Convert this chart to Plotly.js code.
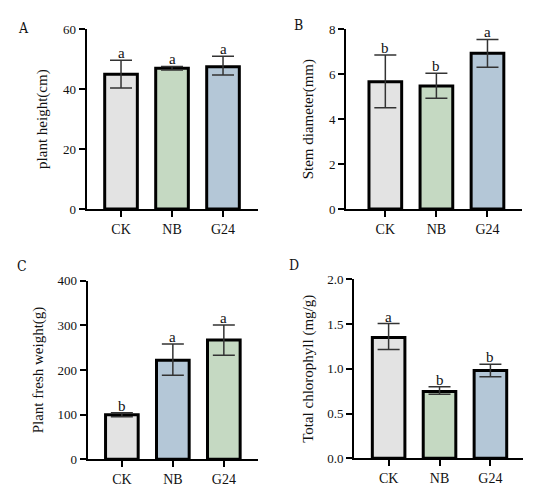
<!DOCTYPE html>
<html><head><meta charset="utf-8">
<script src="https://cdn.plot.ly/plotly-3.0.1.min.js"></script>
<style>html,body{margin:0;padding:0;background:#fff}#plot{width:550px;height:495px}</style>
</head><body><div id="plot"></div>
<script>
const categories = ["CK", "NB", "G24"];

const heightVals = [45, 47, 47.5];
const heightErrUp = [4.7, 0.6, 3.5];
const heightErrDn = [4.6, 0.6, 2.8];
const heightLetters = ["a", "a", "a"];

const stemVals = [5.67, 5.48, 6.93];
const stemErrUp = [1.19, 0.56, 0.62];
const stemErrDn = [1.16, 0.55, 0.62];
const stemLetters = ["b", "b", "a"];

const freshVals = [100, 222, 267];
const freshErrUp = [4.5, 36, 34];
const freshErrDn = [4.5, 34, 34];
const freshLetters = ["b", "a", "a"];

const chlVals = [1.35, 0.745, 0.98];
const chlErrUp = [0.156, 0.055, 0.07];
const chlErrDn = [0.134, 0.03, 0.068];
const chlLetters = ["a", "b", "b"];

const grey = "#e3e3e3", green = "#c5d9c2", blue = "#b4c7d7";
const colorsABD = [grey, green, blue];
const colorsC = [grey, blue, green];

const FONT = "Liberation Serif";

function barTrace(vals, up, dn, colors, xa, ya) {
  return {
    type: "bar", x: categories, y: vals, xaxis: xa, yaxis: ya,
    width: 0.64,
    marker: {color: colors, line: {color: "#000", width: 3}},
    error_y: {type: "data", array: up, arrayminus: dn, visible: true,
              color: "#333", thickness: 1.5, width: 11},
    showlegend: false, hoverinfo: "skip"
  };
}

const traces = [
  barTrace(heightVals, heightErrUp, heightErrDn, colorsABD, "x", "y"),
  barTrace(stemVals, stemErrUp, stemErrDn, colorsABD, "x2", "y2"),
  barTrace(freshVals, freshErrUp, freshErrDn, colorsC, "x3", "y3"),
  barTrace(chlVals, chlErrUp, chlErrDn, colorsABD, "x4", "y4")
];

function xax(domain, range) {
  return {domain: domain, range: range, type: "category",
    showline: true, linecolor: "#000", linewidth: 2,
    ticks: "outside", ticklen: 6, tickwidth: 2, tickcolor: "#000",
    tickfont: {family: FONT, size: 14, color: "#111"},
    showgrid: false, zeroline: false, fixedrange: true};
}
function yax(domain, range, dtick, title, fmt, standoff) {
  return {domain: domain, range: range, dtick: dtick, tick0: 0,
    showline: true, linecolor: "#000", linewidth: 2,
    ticks: "outside", ticklen: 6, tickwidth: 2, tickcolor: "#000",
    tickfont: {family: FONT, size: 13, color: "#111"},
    tickformat: fmt || "",
    title: {text: title, font: {family: FONT, size: 15, color: "#111"}, standoff: standoff},
    showgrid: false, zeroline: false, fixedrange: true};
}

const annotations = [];
function addLetters(letters, vals, up, xa, ya) {
  letters.forEach((t, i) => {
    annotations.push({x: categories[i], y: vals[i] + up[i], xref: xa, yref: ya,
      text: t, showarrow: false, yanchor: "bottom", yshift: -3,
      font: {family: FONT, size: 15, color: "#111"}});
  });
}
addLetters(heightLetters, heightVals, heightErrUp, "x", "y");
addLetters(stemLetters, stemVals, stemErrUp, "x2", "y2");
addLetters(freshLetters, freshVals, freshErrUp, "x3", "y3");
addLetters(chlLetters, chlVals, chlErrUp, "x4", "y4");

const panelLabels = [["A", 23/550, 1 - 28/495], ["B", 298/550, 1 - 25/495],
                     ["C", 22/550, 1 - 266/495], ["D", 294/550, 1 - 265/495]];
panelLabels.forEach(p => annotations.push({text: p[0], x: p[1], y: p[2],
  xref: "paper", yref: "paper", showarrow: false, xanchor: "center", yanchor: "middle",
  font: {family: "DejaVu Serif Condensed, DejaVu Serif, serif", size: 14, color: "#111"}}));

const layout = {
  width: 550, height: 495,
  margin: {l: 0, r: 0, t: 0, b: 0},
  paper_bgcolor: "#fff", plot_bgcolor: "rgba(0,0,0,0)",
  xaxis:  xax([86.7/550, 258/550], [-0.673, 2.686]),
  yaxis:  yax([1 - 209/495, 1 - 29.3/495], [0, 60], 20, "plant height(cm)", "", 12),
  xaxis2: xax([346/550, 521.7/550], [-0.77, 2.67]),
  yaxis2: yax([1 - 209/495, 1 - 29.3/495], [0, 8], 2, "Stem diameter(mm)", "", 12),
  xaxis3: xax([87.7/550, 258/550], [-0.67, 2.67]),
  yaxis3: yax([1 - 459.3/495, 1 - 280.7/495], [0, 400], 100, "Plant fresh weight(g)", "", 10),
  xaxis4: xax([354/550, 523/550], [-0.68, 2.64]),
  yaxis4: yax([1 - 458.3/495, 1 - 279.3/495], [0, 2], 0.5, "Total chlorophyll (mg/g)", ".1f", 10),
  annotations: annotations
};
layout.yaxis.anchor = "x"; layout.xaxis.anchor = "y";
layout.yaxis2.anchor = "x2"; layout.xaxis2.anchor = "y2";
layout.yaxis3.anchor = "x3"; layout.xaxis3.anchor = "y3";
layout.yaxis4.anchor = "x4"; layout.xaxis4.anchor = "y4";

Plotly.newPlot("plot", traces, layout, {displayModeBar: false, staticPlot: true});
</script>
</body></html>
